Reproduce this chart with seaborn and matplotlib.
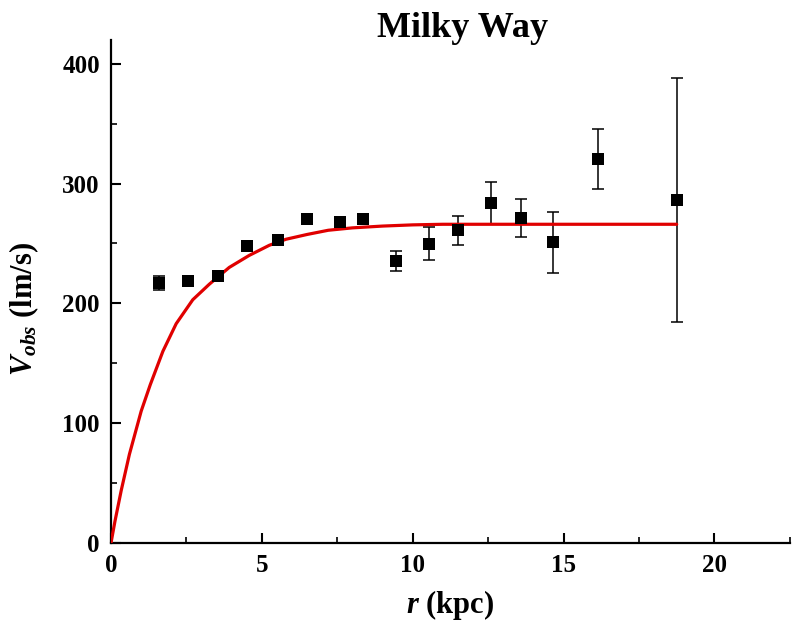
import matplotlib
matplotlib.use("Agg")
import matplotlib.pyplot as plt
from matplotlib.ticker import MultipleLocator
import seaborn as sns
import pandas as pd

# observed rotation velocities
r_obs = [1.58, 2.54, 3.56, 4.51, 5.52, 6.51, 7.59, 8.35, 9.46, 10.54,
         11.50, 12.58, 13.59, 14.66, 16.13, 18.75]
v_obs = [217, 219, 222.5, 247.5, 253, 270.6, 267.5, 270.3, 235.3, 249.7,
         261, 284, 271, 251, 320.6, 286.4]
v_err = [5.5, 3, 3, 3, 3, 3, 3, 3, 8.5, 13.7,
         12, 17.5, 15.7, 25.5, 25, 102]

# fitted curve
r_fit = [0, 0.13, 0.34, 0.61, 1.0, 1.3, 1.72, 2.16, 2.71, 3.26, 3.92,
         4.58, 5.25, 5.8, 6.5, 7.2, 8.0, 9.0, 10.0, 11.0, 14.0, 18.75]
v_fit = [0, 18, 44, 74, 110, 132, 160, 183, 203, 216, 230,
         240, 248.5, 253.5, 257.5, 261, 263, 264.5, 265.5, 266, 266, 266]

sns.set_style("ticks", {"axes.edgecolor": "black", "text.color": "black",
                        "xtick.color": "black", "ytick.color": "black",
                        "axes.labelcolor": "black"})
plt.rcParams["font.family"] = ["Liberation Serif", "DejaVu Serif"]
plt.rcParams["mathtext.fontset"] = "custom"
plt.rcParams["mathtext.rm"] = "Liberation Serif:bold"
plt.rcParams["mathtext.it"] = "Liberation Serif:italic:bold"
plt.rcParams["mathtext.bf"] = "Liberation Serif:bold"
plt.rcParams["mathtext.bfit"] = "Liberation Serif:italic:bold"

obs = pd.DataFrame({"r": r_obs, "v": v_obs, "err": v_err})
fit = pd.DataFrame({"r": r_fit, "v": v_fit})

fig = plt.figure(figsize=(7.93, 6.32), dpi=100)
ax = fig.add_axes([0.140, 0.141, 0.856, 0.796])

ax.errorbar(obs["r"], obs["v"], yerr=obs["err"], fmt="none",
            ecolor="black", elinewidth=1.1, capsize=4.3, capthick=1.1, zorder=2)
sns.lineplot(data=fit, x="r", y="v", color="#e00000", linewidth=2.3,
             ax=ax, zorder=3)
sns.scatterplot(data=obs, x="r", y="v", marker="s", s=75, color="black",
                edgecolor="black", linewidth=0, ax=ax, zorder=4)

ax.set_xlim(0, 22.5)
ax.set_ylim(0, 420)
ax.xaxis.set_major_locator(MultipleLocator(5))
ax.xaxis.set_minor_locator(MultipleLocator(2.5))
ax.yaxis.set_major_locator(MultipleLocator(100))
ax.yaxis.set_minor_locator(MultipleLocator(50))
ax.tick_params(which="major", direction="in", length=7, width=1.5,
               labelsize=18, colors="black", pad=8)
ax.tick_params(which="minor", direction="in", length=4, width=1.2, colors="black")
for lab in ax.get_xticklabels() + ax.get_yticklabels():
    lab.set_fontweight("bold")

sns.despine(ax=ax)
for side in ["left", "bottom"]:
    ax.spines[side].set_linewidth(1.6)
    ax.spines[side].set_color("black")

ax.set_xlabel(r"$\mathbfit{r}$ (kpc)", fontsize=22, fontweight="bold",
              labelpad=8, color="black")
ax.set_ylabel(r"$\mathbfit{V}_{\mathbfit{obs}}$ (lm/s)", fontsize=22,
              fontweight="bold", color="black")
ax.yaxis.set_label_coords(-0.103, 0.465)

fig.text(0.583, 0.955, "Milky Way", ha="center", va="center",
         fontsize=26, fontweight="bold", color="black")

fig.savefig("out.png", dpi=100, facecolor="white")
